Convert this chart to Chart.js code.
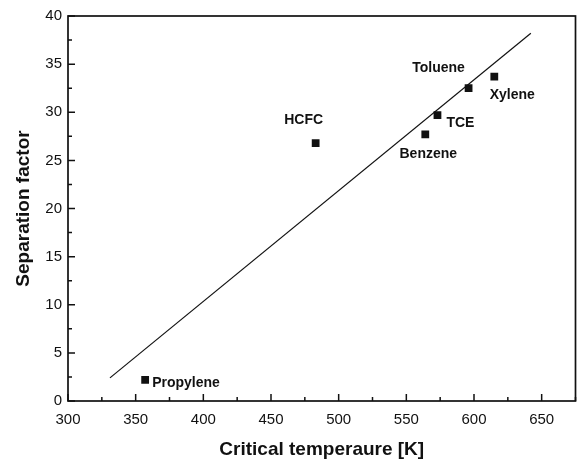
<!DOCTYPE html>
<html>
<head>
<meta charset="utf-8">
<script src="https://cdn.jsdelivr.net/npm/chart.js@4"></script>
<style>
  html, body { margin: 0; padding: 0; background: #fff; }
  #wrap { width: 581px; height: 461px; }
</style>
</head>
<body>
<div id="wrap"><canvas id="myChart" width="581" height="461"></canvas></div>
<script>
// data
var compounds = ['Propylene', 'HCFC', 'Benzene', 'TCE', 'Toluene', 'Xylene'];
var critTemp = [357, 483, 564, 573, 596, 615];
var sepFactor = [2.2, 26.8, 27.7, 29.7, 32.5, 33.7];
var fitX = [331, 642];
var fitY = [2.4, 38.2];
var xTicks = [300, 350, 400, 450, 500, 550, 600, 650];
var yTicks = [0, 5, 10, 15, 20, 25, 30, 35, 40];

// where each name sits next to its square (dx, dy in px, align)
var labelPos = [[7, 3, 'left'], [-12, -23, 'center'], [3, 20, 'center'],
                [23, 8, 'center'], [-30, -20, 'center'], [18, 19, 'center']];

var FONT = '"Liberation Sans", Arial, sans-serif';

// frame, inward ticks and point names
var framePlugin = {
  id: 'frame',
  afterDraw: function(chart) {
    var c = chart.ctx, a = chart.chartArea;
    var xs = chart.scales.x, ys = chart.scales.y;
    c.save();
    c.strokeStyle = '#111';
    c.lineWidth = 1.7;
    c.strokeRect(a.left, a.top, a.right - a.left, a.bottom - a.top);
    c.lineWidth = 1.5;
    c.beginPath();
    for (var v = 300; v <= 675; v += 25) {
      var px = xs.getPixelForValue(v);
      var len = (v % 50 === 0) ? 7 : 4;
      c.moveTo(px, a.bottom); c.lineTo(px, a.bottom - len);
    }
    for (var w = 0; w <= 40; w += 2.5) {
      var py = ys.getPixelForValue(w);
      var l2 = (w % 5 === 0) ? 7 : 4;
      c.moveTo(a.left, py); c.lineTo(a.left + l2, py);
    }
    c.stroke();

    c.fillStyle = '#111';
    c.font = 'bold 14px ' + FONT;
    c.textBaseline = 'middle';
    for (var i = 0; i < compounds.length; i++) {
      var x = xs.getPixelForValue(critTemp[i]);
      var y = ys.getPixelForValue(sepFactor[i]);
      c.textAlign = labelPos[i][2];
      c.fillText(compounds[i], x + labelPos[i][0], y + labelPos[i][1]);
    }
    c.restore();
  }
};

var pts = critTemp.map(function(t, i) { return { x: t, y: sepFactor[i] }; });
var fit = fitX.map(function(t, i) { return { x: t, y: fitY[i] }; });

const ctx = document.getElementById('myChart');

const chart = new Chart(ctx, {
  type: 'scatter',
  data: {
    datasets: [{
      label: 'Separation factor',
      data: pts,
      pointStyle: 'rect',
      pointRadius: 5.5,
      backgroundColor: '#111',
      borderColor: '#111',
      borderWidth: 0
    }, {
      label: 'fit',
      data: fit,
      showLine: true,
      pointRadius: 0,
      borderColor: '#111',
      borderWidth: 1.2
    }]
  },
  options: {
    responsive: false,
    animation: false,
    layout: { padding: { top: 16, right: 4, left: 0, bottom: 0 } },
    plugins: { legend: { display: false }, tooltip: { enabled: false } },
    scales: {
      x: {
        type: 'linear',
        min: 300, max: 675,
        afterBuildTicks: function(s) { s.ticks = xTicks.map(function(v) { return { value: v }; }); },
        afterFit: function(s) { s.height = 60; },
        grid: { display: false, drawTicks: false },
        border: { display: false },
        ticks: { color: '#111', font: { family: FONT, size: 15 }, padding: 10, maxRotation: 0 },
        title: { display: true, text: 'Critical temperaure [K]', color: '#111',
                 font: { family: FONT, size: 19, weight: 'bold' }, padding: { top: 4, bottom: 0 } }
      },
      y: {
        type: 'linear',
        min: 0, max: 40,
        afterBuildTicks: function(s) { s.ticks = yTicks.map(function(v) { return { value: v }; }); },
        afterFit: function(s) { s.width = 68; },
        grid: { display: false, drawTicks: false },
        border: { display: false },
        ticks: { color: '#111', font: { family: FONT, size: 15 }, padding: 6 },
        title: { display: true, text: 'Separation factor', color: '#111',
                 font: { family: FONT, size: 19, weight: 'bold' }, padding: { top: 12, bottom: 0 } }
      }
    }
  },
  plugins: [framePlugin]
});
</script>
</body>
</html>
